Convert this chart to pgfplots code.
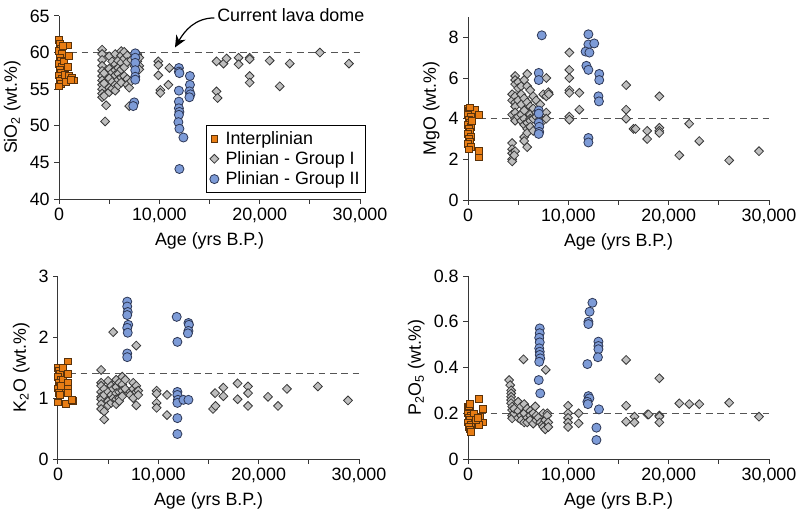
\documentclass[border=0pt]{standalone}
\usepackage{pgfplots}
\pgfplotsset{compat=1.18}
\usetikzlibrary{arrows.meta}
\usepackage{fontspec}
\setmainfont{Liberation Sans}
\newcommand\fs{\fontsize{13.4}{15.5}\selectfont}
\definecolor{ora}{RGB}{232,125,20}
\definecolor{oraedge}{RGB}{90,50,10}
\definecolor{gfill}{RGB}{190,190,190}
\definecolor{gedge}{RGB}{55,55,55}
\definecolor{bfill}{RGB}{125,155,215}
\definecolor{bedge}{RGB}{45,55,85}
\definecolor{axc}{RGB}{55,55,55}
\pgfplotsset{
  panel/.style={scale only axis, width=225.75pt, height=137.25pt, anchor=south west,
    axis x line=bottom, axis y line=left, axis line style={-, axc, line width=0.75pt},
    every outer x axis line/.append style={-}, every outer y axis line/.append style={-},
    xmin=0, xmax=30000, xtick={0,10000,20000,30000},
    xticklabels={0,{10,000},{20,000},{30,000}}, minor xtick={5000,15000,25000},
    tick align=outside, major tick length=3.5pt, minor tick length=3.5pt,
    tick style={axc, line width=0.75pt},
    tick label style={font=\fs}, label style={font=\fs},
    xlabel={Age (yrs B.P.)}, clip=false, scaled x ticks=false,
    /pgf/number format/assume math mode=true},
  inter/.style={only marks, mark=square*, mark size=2.5pt, mark options={fill=ora, draw=oraedge, line width=0.5pt}},
  grpI/.style={only marks, mark=square*, mark size=2.35pt, mark options={rotate=45, fill=gfill, draw=gedge, line width=0.6pt}},
  grpII/.style={only marks, mark=*, mark size=3.4pt, mark options={fill=bfill, draw=bedge, line width=0.6pt}},
  refl/.style={axc!85, line width=1.1pt, dash pattern=on 5pt off 3.5pt, forget plot}
}
\begin{document}
\begin{tikzpicture}
\path[use as bounding box] (0,0) rectangle (598.5pt,386.25pt);
% ---------------- SiO2
\begin{axis}[panel, at={(44.25pt,237pt)}, ymin=40, ymax=65, ytick={40,45,50,55,60,65},
  ylabel={SiO\textsubscript{2} (wt.\%)},
  legend style={at={(1.02,0.033)}, anchor=south east, draw=black, line width=0.6pt, font=\fs,
    cells={anchor=west}, inner sep=2.5pt, row sep=0pt,
    /tikz/every odd column/.append style={column sep=3pt}}]
\addplot[refl] coordinates {(0,60)(30000,60)};
\addplot[inter] coordinates {(0,61.7)(100,61.2)(200,60.6)(0,60.2)(300,59.8)(100,59.3)(200,58.9)(0,58.5)(300,58.1)(100,57.7)(200,57.3)(0,56.9)(300,56.5)(100,56.1)(200,55.7)(0,55.4)(500,58.8)(600,57.0)(900,61.0)(1000,59.6)(900,58.1)(1000,56.8)(700,56.0)(1300,56.6)(1500,56.2)(1200,56.3)(400,60.9)};
\addplot[grpI] coordinates {(4300,60.4)(4300,59.8)(4300,59.0)(4300,58.2)(4300,57.5)(4300,56.8)(4300,56.2)(4300,55.6)(4300,55.0)(4300,54.4)(4300,53.9)(4500,57.2)(4500,55.8)(4500,54.1)(4600,50.6)(4700,52.8)(5000,59.5)(5000,57.8)(5000,56.5)(5000,55.2)(5000,54.6)(5300,58.8)(5300,57.3)(5300,56.0)(5300,55.1)(5600,59.8)(5600,58.4)(5600,57.6)(5600,56.9)(5600,55.6)(5600,54.8)(5900,58.9)(5900,57.9)(5900,57.1)(5900,56.3)(5900,55.5)(6200,60.2)(6200,59.6)(6200,58.6)(6200,57.7)(6200,56.6)(6200,55.9)(6500,60.1)(6500,59.2)(6500,58.0)(6500,56.8)(6800,59.6)(6800,58.7)(6800,56.4)(6800,55.6)(7000,55.2)(7000,52.7)(7200,59.0)(7200,56.1)(7500,58.2)(7800,59.8)(7800,58.8)(7800,57.6)(8000,59.3)(8000,58.2)(8000,57.7)(9900,58.8)(9900,58.3)(9900,56.9)(10100,54.9)(10100,54.5)(11000,57.9)(10900,55.6)(15700,58.8)(15700,54.7)(15800,53.8)(16400,58.5)(16700,59.2)(17900,59.3)(17900,58.4)(19000,59.3)(19000,59.1)(19000,56.8)(19000,55.9)(21000,58.9)(22000,55.4)(23000,58.5)(26000,60.0)(28900,58.5)};
\addplot[grpII] coordinates {(7600,59.9)(7600,59.3)(7600,58.6)(7600,57.6)(7600,56.7)(7600,56.3)(7500,53.2)(7400,52.7)(11950,57.9)(11950,57.4)(12000,57.2)(11950,54.8)(11950,53.3)(11950,52.4)(12000,51.9)(11950,51.5)(11900,50.5)(12000,49.6)(12400,48.4)(12000,44.1)(13050,56.8)(13050,55.6)(13000,54.7)(13100,54.3)(13000,53.9)};
\legend{Interplinian, Plinian - Group I, Plinian - Group II}
\node[font=\fs, anchor=west, inner sep=0pt] (cld) at (axis cs:15750,65.1) {Current lava dome};
\draw[black, line width=0.9pt, -{Stealth[length=9pt,width=8pt]}] ([xshift=-2pt,yshift=-2pt]cld.west) to[out=180, in=60] (axis cs:11560,60.7);
\end{axis}
% ---------------- MgO
\begin{axis}[panel, at={(351pt,236.25pt)}, ymin=0, ymax=9, ytick={0,2,4,6,8},
  ylabel={MgO (wt.\%)}]
\addplot[refl] coordinates {(0,4)(30000,4)};
\addplot[inter] coordinates {(0,4.5)(100,4.4)(200,4.3)(0,4.2)(300,4.1)(100,3.95)(200,3.8)(0,3.7)(300,3.6)(100,3.5)(200,3.35)(0,3.25)(300,3.1)(100,3.0)(200,2.85)(0,2.75)(300,2.6)(100,2.5)(700,4.45)(1050,4.2)(1050,2.42)(1050,2.1)(400,3.9)(200,4.55)};
\addplot[grpI] coordinates {(4400,2.8)(4400,2.5)(4400,2.3)(4400,2.0)(4400,1.9)(4400,5.2)(4400,4.9)(4400,4.2)(4700,6.1)(4700,5.9)(4700,5.7)(4700,5.1)(4700,4.8)(4700,4.6)(4700,4.3)(4700,4.0)(4700,3.9)(4700,2.4)(4600,2.2)(5000,5.8)(5000,5.5)(5000,4.9)(5000,4.1)(5300,5.6)(5300,5.2)(5300,4.7)(5300,4.2)(5300,3.9)(5600,5.9)(5600,5.0)(5600,4.4)(5600,4.0)(5600,3.7)(5600,3.1)(5600,2.9)(5900,6.2)(5900,5.6)(5900,4.8)(5900,3.8)(5900,3.5)(5900,3.3)(5900,2.6)(6200,5.4)(6200,4.6)(6200,4.2)(6200,4.0)(6200,3.9)(6200,3.6)(6500,5.1)(6500,4.5)(6500,4.0)(6500,3.4)(6800,4.9)(6800,4.3)(6800,4.1)(7200,4.7)(7200,4.0)(7500,5.2)(7500,3.9)(7800,6.0)(7800,5.1)(7800,4.3)(7800,4.0)(8000,5.3)(8050,5.2)(10100,7.25)(10100,6.4)(10100,6.0)(10100,5.4)(10100,5.27)(10100,4.1)(10100,3.95)(11100,5.27)(11100,4.44)(15760,5.65)(15760,4.44)(15760,4.0)(16500,3.5)(16700,3.5)(17860,3.4)(17860,3.0)(19070,5.1)(19070,3.55)(19070,3.4)(19070,3.3)(21060,2.2)(22050,3.75)(23050,2.9)(26030,1.95)(29000,2.4)};
\addplot[grpII] coordinates {(7350,8.1)(7050,6.25)(7050,5.9)(7050,4.4)(7050,4.25)(7050,3.8)(7100,3.6)(7100,3.35)(7050,3.25)(12000,8.15)(12000,7.65)(12580,7.7)(11720,7.3)(12100,7.25)(11800,6.6)(12000,6.4)(13080,6.2)(13080,5.9)(13000,5.1)(13050,4.85)(12000,3.05)(12000,2.83)};
\end{axis}
% ---------------- K2O
\begin{axis}[panel, at={(43.5pt,42pt)}, ymin=0, ymax=3, ytick={0,1,2,3},
  ylabel={K\textsubscript{2}O (wt.\%)}]
\addplot[refl] coordinates {(0,1.4)(30000,1.4)};
\addplot[inter] coordinates {(0,1.5)(100,1.45)(200,1.4)(0,1.35)(300,1.3)(100,1.25)(200,1.2)(0,1.16)(300,1.12)(100,1.08)(200,1.05)(0,0.93)(500,1.5)(500,1.3)(1000,1.6)(1000,1.4)(1000,1.25)(1000,1.16)(1000,1.08)(800,0.9)(1500,0.95)(1400,0.97)(300,1.2)};
\addplot[grpI] coordinates {(4300,1.46)(4300,1.25)(4300,1.2)(4300,1.1)(4300,1.02)(4300,0.98)(4300,0.9)(4300,0.82)(4600,0.78)(4600,0.65)(4600,1.15)(4600,1.05)(5000,1.28)(5000,1.1)(5000,0.95)(5000,0.88)(5300,1.2)(5300,1.05)(5300,0.92)(5500,2.08)(5500,1.15)(5500,1.0)(5800,1.3)(5800,1.18)(5800,1.08)(5800,0.98)(5800,0.9)(6100,1.25)(6100,1.1)(6100,1.0)(6100,0.95)(6400,1.35)(6400,1.22)(6400,1.12)(6400,1.03)(6700,1.3)(6700,1.15)(7200,1.1)(7200,1.05)(7500,1.25)(7500,1.15)(7500,1.0)(7800,1.86)(7800,1.2)(7800,1.1)(7800,0.88)(8000,1.12)(8000,1.05)(9830,1.12)(9830,1.07)(9830,0.92)(9830,0.84)(10860,1.05)(10860,0.72)(15450,0.82)(15650,1.08)(15700,0.87)(16480,1.17)(16480,1.03)(17900,1.24)(17900,0.98)(18940,1.19)(18940,1.08)(18940,0.87)(20930,1.02)(21930,0.87)(22820,1.15)(25900,1.19)(28900,0.96)};
\addplot[grpII] coordinates {(6900,2.58)(6900,2.5)(6950,2.41)(6900,2.36)(7000,2.2)(6900,2.15)(6950,2.07)(6900,1.73)(6900,1.67)(11830,2.33)(11900,1.92)(13000,2.23)(13050,2.2)(13000,2.1)(12950,2.06)(11900,1.1)(11900,1.05)(11950,0.97)(11900,0.92)(12500,0.97)(13000,0.97)(11900,0.67)(11900,0.41)};
\end{axis}
% ---------------- P2O5
\begin{axis}[panel, at={(351pt,42pt)}, ymin=0, ymax=0.8, ytick={0,0.2,0.4,0.6,0.8},
  yticklabels={0,0.2,0.4,0.6,0.8},
  ylabel={P\textsubscript{2}O\textsubscript{5} (wt.\%)}]
\addplot[refl] coordinates {(0,0.2)(30000,0.2)};
\addplot[inter] coordinates {(0,0.23)(100,0.22)(200,0.21)(0,0.2)(300,0.19)(100,0.18)(200,0.17)(0,0.16)(300,0.15)(100,0.14)(200,0.13)(300,0.12)(100,0.23)(1090,0.264)(1500,0.22)(1200,0.185)(1500,0.16)(1100,0.15)(800,0.17)(600,0.2)(1000,0.18)(200,0.24)};
\addplot[grpI] coordinates {(4100,0.345)(4200,0.323)(4300,0.30)(4300,0.287)(4300,0.272)(4300,0.258)(4300,0.244)(4400,0.229)(4400,0.214)(4400,0.19)(4400,0.178)(4600,0.2)(4600,0.22)(5530,0.436)(7750,0.39)(5000,0.25)(5000,0.21)(5000,0.18)(5300,0.23)(5300,0.19)(5300,0.17)(5600,0.24)(5600,0.2)(5600,0.16)(5900,0.22)(5900,0.18)(5900,0.16)(6200,0.21)(6200,0.19)(6200,0.17)(6500,0.2)(6500,0.155)(6700,0.23)(6800,0.19)(6800,0.17)(7000,0.18)(7200,0.16)(7400,0.15)(7500,0.2)(7500,0.14)(7700,0.17)(7700,0.13)(7900,0.2)(7900,0.19)(8000,0.16)(8000,0.14)(9970,0.233)(9970,0.2)(9970,0.18)(9970,0.16)(9970,0.14)(11030,0.2)(11030,0.156)(15760,0.433)(15760,0.233)(15760,0.163)(16590,0.185)(16590,0.16)(17880,0.195)(18000,0.195)(19070,0.353)(19070,0.19)(19070,0.185)(19070,0.16)(21060,0.243)(22050,0.24)(23050,0.24)(26030,0.246)(29000,0.185)};
\addplot[grpII] coordinates {(7150,0.571)(7150,0.55)(7100,0.53)(7150,0.51)(7100,0.484)(7150,0.469)(7150,0.455)(7200,0.44)(7100,0.425)(7050,0.345)(7200,0.287)(12400,0.683)(12120,0.644)(12000,0.60)(12000,0.59)(11900,0.415)(12000,0.275)(12100,0.265)(11900,0.25)(11950,0.24)(13000,0.513)(13000,0.494)(13000,0.48)(12950,0.445)(13050,0.217)(12800,0.137)(12800,0.083)};
\end{axis}
\end{tikzpicture}
\end{document}
